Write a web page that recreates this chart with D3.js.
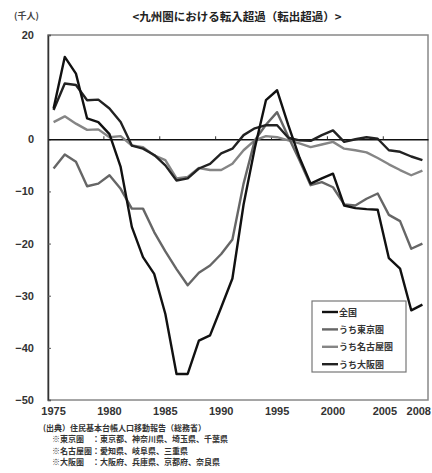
<!DOCTYPE html>
<html>
<head>
<meta charset="utf-8">
<script src="https://cdn.jsdelivr.net/npm/d3@7"></script>
<style>
  body { margin: 0; background: #fff; }
  svg text { font-family: "Liberation Sans", Arial, sans-serif; }
  .jp { font-family: "Noto Sans CJK JP", sans-serif; }
</style>
</head>
<body>
<script>
// 年（カテゴリ）
const years = d3.range(1975, 2009);
const tickYears = [1975, 1980, 1985, 1990, 1995, 2000, 2005, 2008];
const yTicks = [20, 0, -10, -20, -30, -40, -50];

// 転入超過数（千人）
const zenkoku = [5.9, 15.8, 12.6, 4.0, 3.3, 1.0, -5.3, -16.8, -22.6, -25.8,
  -33.5, -45.0, -45.0, -38.6, -37.6, -32.2, -26.7, -12.5, -1.7, 7.5,
  9.4, 2.7, -3.5, -8.5, -7.5, -6.6, -12.7, -13.2, -13.4, -13.5,
  -22.8, -24.8, -32.8, -31.7];
const tokyo = [-5.6, -2.9, -4.3, -9.0, -8.5, -6.9, -9.5, -13.3, -13.3, -17.8,
  -21.5, -24.9, -28.0, -25.6, -24.2, -22.0, -19.2, -8.5, -0.2, 2.8,
  5.2, 0.5, -4.0, -8.8, -8.2, -9.2, -12.5, -12.7, -11.4, -10.4,
  -14.5, -15.7, -21.0, -20.0];
const nagoya = [3.3, 4.4, 3.0, 1.8, 1.9, 0.4, 0.6, -1.2, -1.5, -3.1,
  -4.0, -7.5, -7.2, -5.5, -5.9, -5.9, -4.7, -2.1, -0.2, 0.6,
  0.4, -0.2, -0.8, -1.5, -1.0, -0.5, -1.8, -2.1, -2.5, -3.6,
  -4.8, -5.9, -6.9, -6.0];
const osaka = [5.6, 10.7, 10.4, 7.5, 7.6, 5.9, 3.3, -1.2, -1.8, -3.0,
  -5.0, -7.9, -7.5, -5.6, -4.7, -2.7, -1.8, 0.8, 2.1, 2.7,
  2.7, 0.3, -0.2, -0.3, 0.8, 1.7, -0.5, 0.0, 0.4, 0.1,
  -2.1, -2.4, -3.3, -4.0];

const seriesNames = ["全国", "うち東京圏", "うち名古屋圏", "うち大阪圏"];
const seriesValues = [zenkoku, tokyo, nagoya, osaka];
const seriesColors = ["#111", "#666", "#858585", "#222"];

const notes = [
  "(出典）住民基本台帳人口移動報告（総務省）",
  "※東京圏　：東京都、神奈川県、埼玉県、千葉県",
  "※名古屋圏：愛知県、岐阜県、三重県",
  "※大阪圏　：大阪府、兵庫県、京都府、奈良県"
];

const W = 432, H = 473;
const plot = {left: 48, right: 428, top: 35, bottom: 400};

const svg = d3.select("body").append("svg")
  .attr("width", W).attr("height", H);

const x = d3.scaleBand().domain(years).range([plot.left, plot.right]);
const xc = d => x(d) + x.bandwidth() / 2;
const y = d3.scaleLinear().domain([-50, 20]).range([plot.bottom, plot.top]);

// タイトル
svg.append("text").attr("class", "jp")
  .attr("x", 237).attr("y", 21)
  .attr("text-anchor", "middle")
  .attr("font-size", 11.5).attr("font-weight", "bold").attr("fill", "#222")
  .text("<九州圏における転入超過（転出超過）>");

svg.append("text").attr("class", "jp")
  .attr("x", 14).attr("y", 19)
  .attr("font-size", 9).attr("font-weight", "bold").attr("fill", "#444")
  .text("(千人)");

// 枠
svg.append("rect")
  .attr("x", plot.left).attr("y", plot.top)
  .attr("width", plot.right - plot.left).attr("height", plot.bottom - plot.top)
  .attr("fill", "none").attr("stroke", "#888").attr("stroke-width", 1.5);

// y軸
const yAxis = d3.axisLeft(y).tickValues(yTicks).tickSize(-3).tickPadding(14);
svg.append("g")
  .attr("transform", `translate(${plot.left},0)`)
  .call(yAxis)
  .call(g => g.select(".domain").attr("stroke", "#333").attr("stroke-width", 1.5))
  .call(g => g.selectAll("line").attr("stroke", "#555"))
  .call(g => g.selectAll("text")
    .attr("font-size", 11).attr("font-weight", "bold").attr("fill", "#333")
    .attr("font-family", "Liberation Sans, Arial, sans-serif"));

// x軸（ゼロ線）
const xAxis = d3.axisTop(x)
  .tickValues([1980, 1985, 1990, 1995, 2000, 2005])
  .tickFormat("").tickSize(3).tickSizeOuter(0);
svg.append("g")
  .attr("transform", `translate(0,${y(0)})`)
  .call(xAxis)
  .call(g => g.select(".domain").attr("stroke", "#111").attr("stroke-width", 1.5))
  .call(g => g.selectAll(".tick").attr("transform", d => `translate(${x(d)},0)`))
  .call(g => g.selectAll("line").attr("stroke", "#333"));

// x 目盛ラベル
svg.append("g").selectAll("text")
  .data(tickYears)
  .join("text")
  .attr("x", d => d === 2008 ? 431 : d === 2005 ? xc(d) - 4 : xc(d))
  .attr("y", 415)
  .attr("text-anchor", d => d === 2008 ? "end" : "middle")
  .attr("font-size", 11).attr("font-weight", "bold").attr("fill", "#333")
  .text(d => d);

// 折れ線
const line = d3.line()
  .x((d, i) => xc(years[i]))
  .y(d => y(d));

const order = [2, 1, 3, 0];
svg.append("g").selectAll("path")
  .data(order)
  .join("path")
  .attr("d", k => line(seriesValues[k]))
  .attr("fill", "none")
  .attr("stroke", k => seriesColors[k])
  .attr("stroke-width", 2.4)
  .attr("stroke-linejoin", "round");

// 凡例
const lg = svg.append("g").attr("transform", "translate(312,301)");
lg.append("rect")
  .attr("width", 94).attr("height", 71)
  .attr("fill", "#fff").attr("stroke", "#777").attr("stroke-width", 1.2);
const item = lg.selectAll("g.item")
  .data(seriesNames)
  .join("g").attr("class", "item")
  .attr("transform", (d, i) => `translate(10,${11 + i * 17.4})`);
item.append("line")
  .attr("x1", 0).attr("x2", 16)
  .attr("stroke", (d, i) => seriesColors[i]).attr("stroke-width", 2.4);
item.append("text").attr("class", "jp")
  .attr("x", 17).attr("y", 3.5)
  .attr("font-size", 9).attr("font-weight", "bold").attr("fill", "#333")
  .text(d => d);

// 注記
svg.append("g").selectAll("text")
  .data(notes)
  .join("text").attr("class", "jp")
  .attr("x", (d, i) => i === 0 ? 43 : 52)
  .attr("y", (d, i) => 431 + i * 11.3)
  .attr("font-size", 8).attr("font-weight", "bold").attr("fill", "#333")
  .text(d => d);
</script>
</body>
</html>
